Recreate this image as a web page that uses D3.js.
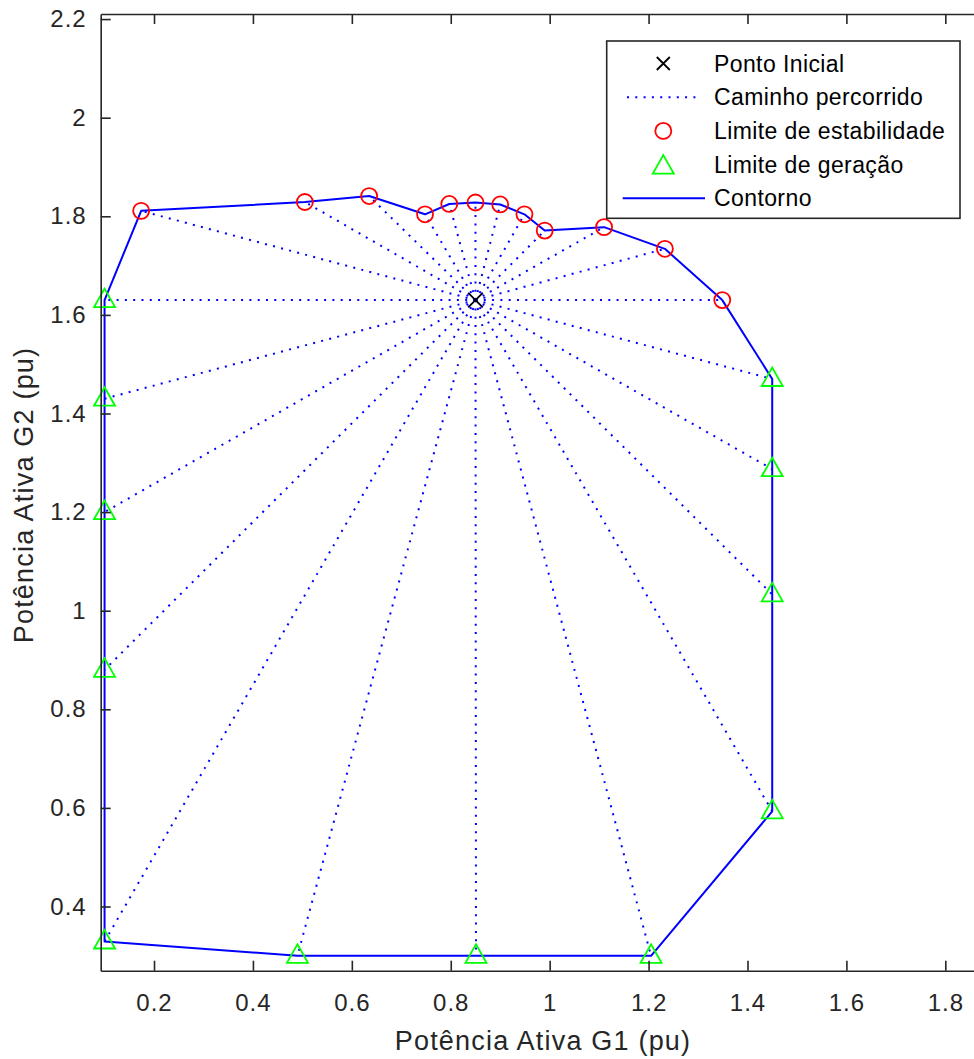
<!DOCTYPE html>
<html>
<head>
<meta charset="utf-8">
<script src="https://cdn.jsdelivr.net/npm/d3@7"></script>
<style>
  html, body { margin: 0; padding: 0; background: #fff; }
  svg { display: block; font-family: "Liberation Sans", Arial, Helvetica, sans-serif; }
</style>
</head>
<body>
<svg id="chart" width="974" height="1059"></svg>
<script>
// Operating point and limit points (pu)
const pontoInicial = [0.85, 1.63];

const estabilidadeG1 = [1.349, 1.233, 1.110, 0.990, 0.949, 0.900, 0.850, 0.797, 0.748, 0.635, 0.505, 0.174];
const estabilidadeG2 = [1.630, 1.734, 1.778, 1.771, 1.804, 1.824, 1.828, 1.825, 1.804, 1.841, 1.829, 1.811];

const geracaoG1 = [0.10, 0.10, 0.10, 0.10, 0.10, 0.49, 0.851, 1.205, 1.45, 1.45, 1.45, 1.45];
const geracaoG2 = [1.63, 1.43, 1.20, 0.88, 0.329, 0.30, 0.30, 0.30, 0.593, 1.033, 1.287, 1.47];

const xTicks = [0.2, 0.4, 0.6, 0.8, 1, 1.2, 1.4, 1.6, 1.8];
const yTicks = [0.4, 0.6, 0.8, 1, 1.2, 1.4, 1.6, 1.8, 2, 2.2];

const legendLabels = ["Ponto Inicial", "Caminho percorrido", "Limite de estabilidade", "Limite de geração", "Contorno"];

const estabilidade = estabilidadeG1.map((g1, i) => [g1, estabilidadeG2[i]]);
const geracao = geracaoG1.map((g1, i) => [g1, geracaoG2[i]]);
const limites = estabilidade.concat(geracao);
const contorno = limites.concat([limites[0]]);

const svg = d3.select("#chart");
const plot = { left: 100.7, right: 974, top: 14, bottom: 970.7 };

const x = d3.scaleLinear().domain([0.0922, 1.858]).range([plot.left, plot.right]);
const y = d3.scaleLinear().domain([0.2698, 2.2103]).range([plot.bottom, plot.top]);

const axisColor = "#262626";
const blue = "#0000ff";

// Paths from the operating point to each limit
svg.append("g").selectAll("line").data(limites).join("line")
  .attr("x1", x(pontoInicial[0])).attr("y1", y(pontoInicial[1]))
  .attr("x2", d => x(d[0])).attr("y2", d => y(d[1]))
  .attr("stroke", blue).attr("stroke-width", 2)
  .attr("stroke-dasharray", "2 6.3");

// Contour through the limits
svg.append("path").datum(contorno)
  .attr("d", d3.line().x(d => x(d[0])).y(d => y(d[1])))
  .attr("fill", "none").attr("stroke", blue).attr("stroke-width", 2)
  .attr("stroke-linejoin", "round");

// Stability limit markers
svg.append("g").selectAll("circle").data(estabilidade).join("circle")
  .attr("cx", d => x(d[0])).attr("cy", d => y(d[1])).attr("r", 8)
  .attr("fill", "none").attr("stroke", "#ff0000").attr("stroke-width", 1.8);

// Generation limit markers
const tri = (cx, cy) => `M${cx},${cy - 11.5} L${cx + 10.5},${cy + 7} L${cx - 10.5},${cy + 7} Z`;
svg.append("g").selectAll("path").data(geracao).join("path")
  .attr("d", d => tri(x(d[0]), y(d[1])))
  .attr("fill", "none").attr("stroke", "#00ff00").attr("stroke-width", 1.8);

// Operating point marker
const cross = (cx, cy, s) => `M${cx - s},${cy - s} L${cx + s},${cy + s} M${cx - s},${cy + s} L${cx + s},${cy - s}`;
svg.append("path")
  .attr("d", cross(x(pontoInicial[0]), y(pontoInicial[1]), 7))
  .attr("stroke", "#000").attr("stroke-width", 1.8).attr("fill", "none");

// Axes (box with inward ticks)
const xAxisB = d3.axisBottom(x).tickValues(xTicks).tickSizeInner(-10).tickSizeOuter(0).tickPadding(23)
  .tickFormat(d3.format("~g"));
const xAxisT = d3.axisTop(x).tickValues(xTicks).tickSizeInner(-10).tickSizeOuter(0).tickFormat("");
const yAxisL = d3.axisLeft(y).tickValues(yTicks).tickSizeInner(-10).tickSizeOuter(0).tickPadding(14)
  .tickFormat(d3.format("~g"));

function styleAxis(g) {
  g.select(".domain").attr("stroke", axisColor).attr("stroke-width", 1.6);
  g.selectAll(".tick line").attr("stroke", axisColor).attr("stroke-width", 1.6);
  g.selectAll(".tick text").attr("fill", axisColor).attr("font-size", 24)
    .attr("font-family", "\"Liberation Sans\", Arial, Helvetica, sans-serif")
    .style("letter-spacing", "1px");
}

svg.append("g").attr("transform", `translate(0,${plot.bottom})`).call(xAxisB).call(styleAxis);
svg.append("g").attr("transform", `translate(0,${plot.top})`).call(xAxisT).call(styleAxis);
svg.append("g").attr("transform", `translate(${plot.left},0)`).call(yAxisL).call(styleAxis);

// Axis titles
svg.append("text")
  .attr("x", 543).attr("y", 1050).attr("text-anchor", "middle")
  .attr("font-size", 27).attr("fill", axisColor).style("letter-spacing", "1.2px")
  .text("Potência Ativa G1 (pu)");
svg.append("text")
  .attr("transform", "translate(33,495) rotate(-90)").attr("text-anchor", "middle")
  .attr("font-size", 27).attr("fill", axisColor).style("letter-spacing", "1.2px")
  .text("Potência Ativa G2 (pu)");

// Legend
const legend = svg.append("g");
legend.append("rect")
  .attr("x", 606.7).attr("y", 41).attr("width", 353.3).attr("height", 177.3)
  .attr("fill", "#fff").attr("stroke", axisColor).attr("stroke-width", 1.6);

const rowY = i => 63.5 + i * 33.7;
const mx = 663.3;

legend.append("path").attr("d", cross(mx, rowY(0), 6.5))
  .attr("stroke", "#000").attr("stroke-width", 1.8).attr("fill", "none");
legend.append("line").attr("x1", 627).attr("x2", 700).attr("y1", rowY(1)).attr("y2", rowY(1))
  .attr("stroke", blue).attr("stroke-width", 2).attr("stroke-dasharray", "2 6.3");
legend.append("circle").attr("cx", mx).attr("cy", rowY(2)).attr("r", 8)
  .attr("fill", "none").attr("stroke", "#ff0000").attr("stroke-width", 1.8);
legend.append("path").attr("d", tri(mx, rowY(3) + 2))
  .attr("fill", "none").attr("stroke", "#00ff00").attr("stroke-width", 1.8);
legend.append("line").attr("x1", 622.7).attr("x2", 705).attr("y1", rowY(4)).attr("y2", rowY(4))
  .attr("stroke", blue).attr("stroke-width", 2);

legend.selectAll("text.lbl").data(legendLabels).join("text")
  .attr("class", "lbl")
  .attr("x", 714).attr("y", (d, i) => rowY(i) + 8)
  .attr("font-size", 23).attr("fill", "#000").style("letter-spacing", "0.4px")
  .text(d => d);
</script>
</body>
</html>
